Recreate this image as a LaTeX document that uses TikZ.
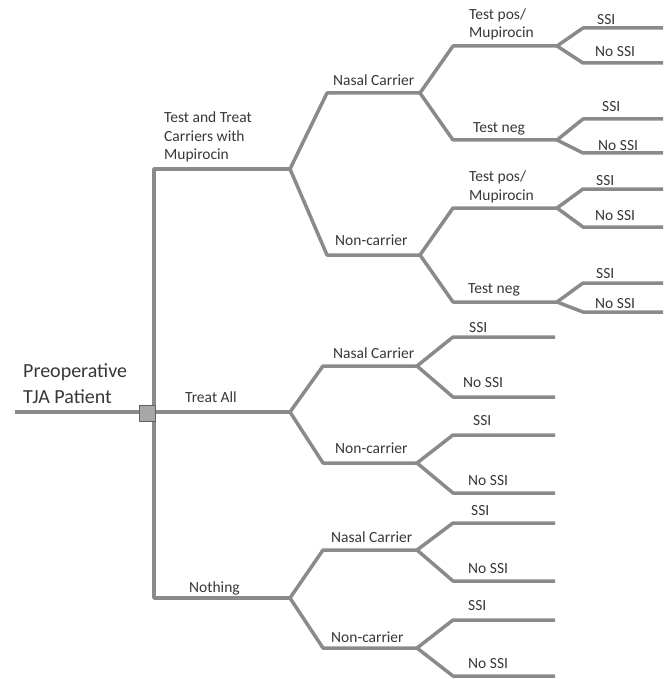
\documentclass[tikz,border=0pt]{standalone}
\usepackage{fontspec}
\setmainfont{Carlito}
\usetikzlibrary{positioning}
\definecolor{branchgray}{RGB}{138,138,138}
\definecolor{labelgray}{RGB}{55,55,55}

\begin{document}
\begin{tikzpicture}[
    x=1pt, y=-1pt,
    branch/.style={draw=branchgray, line width=3.5pt, line join=round},
    decision/.style={draw=branchgray!70!black, fill=branchgray!75, minimum size=16pt, inner sep=0pt},
    lbl/.style={anchor=base west, inner sep=0pt, text=labelgray, font=\fontsize{15.5}{18.5}\selectfont, align=left},
    rootlbl/.style={lbl, font=\fontsize{20}{26}\selectfont}
]
    \useasboundingbox (0,0) rectangle (663,679);

    % Segments - name/start x/end x/y
    \foreach \n/\xa/\xb/\y in {root/15/147/412, tt/154/290/169, ta/154/290/412, no/154/290/598,
        ttN/327/420/93, ttC/327/420/255, taN/323/417/366, taC/323/417/463, noN/323/417/550, noC/323/417/648,
        ttNp/453/557/46, ttNn/453/557/140, ttCp/453/557/208, ttCn/453/557/302,
        taNs/453/555/337, taNo/453/555/397, taCs/453/555/435, taCo/453/555/493,
        noNs/453/555/523, noNo/453/555/581, noCs/453/555/620, noCo/453/555/676,
        ttNps/583/663/28, ttNpo/583/663/63, ttNns/583/663/119, ttNno/583/663/153,
        ttCps/583/663/189, ttCpo/583/663/227, ttCns/583/663/283, ttCno/583/663/312}
        {\coordinate (\n-a) at (\xa,\y); \coordinate (\n-b) at (\xb,\y);}

    % Trunk
    \draw[branch] (tt-b) -- (tt-a) -- (no-a) -- (no-b);
    \draw[branch] (ta-a) -- (ta-b);
    \draw[branch] (root-a) -- (root-b);
    \node[decision] (dec) at (147,413) {};

    % Branches
    \foreach \p/\c in {tt/ttN, tt/ttC, ta/taN, ta/taC, no/noN, no/noC,
        ttN/ttNp, ttN/ttNn, ttC/ttCp, ttC/ttCn,
        taN/taNs, taN/taNo, taC/taCs, taC/taCo, noN/noNs, noN/noNo, noC/noCs, noC/noCo,
        ttNp/ttNps, ttNp/ttNpo, ttNn/ttNns, ttNn/ttNno, ttCp/ttCps, ttCp/ttCpo, ttCn/ttCns, ttCn/ttCno}
        \draw[branch] (\p-b) -- (\c-a) -- (\c-b);

    % Labels - strategies
    \node[rootlbl] (patient) at (23,403) {Preoperative\\TJA Patient};
    \node[lbl] (testtreat) at (164,160) {Test and Treat\\Carriers with\\Mupirocin};
    \node[lbl] (treatall) at (185,402) {Treat All};
    \node[lbl] (nothing) at (189,592) {Nothing};

    % Labels - carriers
    \node[lbl] (ttNl) at (333,86) {Nasal Carrier};
    \node[lbl] (ttCl) at (335,245) {Non-carrier};
    \node[lbl] (taNl) at (333,358) {Nasal Carrier};
    \node[lbl] (taCl) at (335,453) {Non-carrier};
    \node[lbl] (noNl) at (331,542) {Nasal Carrier};
    \node[lbl] (noCl) at (331,642) {Non-carrier};

    % Labels - tests
    \node[lbl] (ttNpl) at (469,38) {Test pos/\\Mupirocin};
    \node[lbl] (ttNnl) at (473,133) {Test neg};
    \node[lbl] (ttCpl) at (469,200) {Test pos/\\Mupirocin};
    \node[lbl] (ttCnl) at (468,293) {Test neg};

    % Labels - outcomes
    \node[lbl] (ttNpsl) at (597,25) {SSI};
    \node[lbl] (ttNpol) at (595,57) {No SSI};
    \node[lbl] (ttNnsl) at (602,112) {SSI};
    \node[lbl] (ttNnol) at (598,150) {No SSI};
    \node[lbl] (ttCpsl) at (596,185) {SSI};
    \node[lbl] (ttCpol) at (595,220) {No SSI};
    \node[lbl] (ttCnsl) at (596,278) {SSI};
    \node[lbl] (ttCnol) at (595,308) {No SSI};
    \node[lbl] (taNsl) at (469,332) {SSI};
    \node[lbl] (taNol) at (463,387) {No SSI};
    \node[lbl] (taCsl) at (473,425) {SSI};
    \node[lbl] (taCol) at (468,485) {No SSI};
    \node[lbl] (noNsl) at (471,515) {SSI};
    \node[lbl] (noNol) at (468,573) {No SSI};
    \node[lbl] (noCsl) at (468,610) {SSI};
    \node[lbl] (noCol) at (468,668) {No SSI};
\end{tikzpicture}
\end{document}
